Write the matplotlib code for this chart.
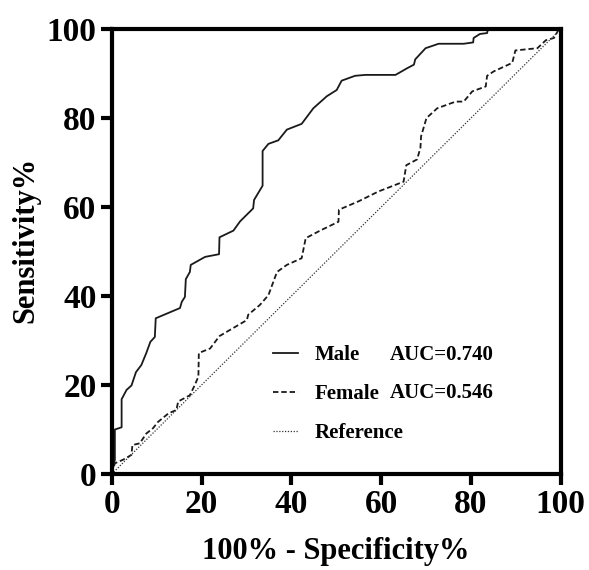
import matplotlib
matplotlib.use("Agg")
import matplotlib.pyplot as plt

# ROC points (100% - specificity, sensitivity)
male_x = [0, 0.7, 0.7, 2.2, 2.2, 3.3, 4.4, 5.4, 6.6, 7.7, 8.6, 9.6, 9.8, 15.2, 15.6,
          16.3, 16.5, 17.4, 17.6, 20.8, 23.9, 24.0, 27.1, 28.6, 31.5, 31.7, 33.6, 33.6,
          34.9, 37.1, 39.0, 42.3, 44.9, 47.9, 50.1, 51.2, 54.2, 56.5, 63.2, 65.8, 67.3,
          67.6, 69.9, 72.8, 78.4, 80.5, 80.6, 82.0, 83.6, 83.8, 100]
male_y = [0, 3.2, 10.0, 10.5, 16.8, 18.9, 19.9, 22.9, 24.5, 27.2, 29.7, 30.8, 35.0, 37.3,
          38.7, 39.8, 43.8, 45.4, 47.0, 48.8, 49.4, 53.2, 54.7, 56.8, 59.7, 61.6, 64.8,
          72.6, 74.2, 75.0, 77.4, 78.7, 82.2, 84.9, 86.3, 88.4, 89.5, 89.7, 89.7, 91.2,
          92.0, 93.2, 95.7, 96.7, 96.7, 97.0, 98.0, 98.9, 99.1, 100, 100]

female_x = [0, 0.7, 2.5, 4.4, 4.6, 6.25, 7.7, 9.2, 10.3, 12.6, 14.4, 14.8, 17.4, 18.5,
            19.3, 19.4, 21.9, 24.0, 26.7, 30.1, 30.4, 33.0, 34.9, 36.8, 39.0, 42.3, 43.2,
            46.4, 50.5, 50.6, 55.0, 59.4, 65.0, 65.6, 68.0, 68.75, 68.9, 70.1, 72.5, 76.6,
            78.4, 80.3, 83.3, 83.6, 85.1, 89.2, 89.9, 94.8, 96.7, 98.5, 99.6, 100]
female_y = [0, 2.4, 3.2, 4.3, 6.5, 6.9, 9.1, 10.3, 11.7, 13.6, 14.4, 16.3, 17.7, 20.0,
            21.9, 27.2, 28.2, 31.0, 32.6, 34.6, 35.8, 38.0, 40.2, 45.4, 47.0, 48.5, 53.0,
            54.7, 56.7, 59.4, 61.3, 63.5, 65.7, 69.4, 70.7, 73.3, 75.9, 80.0, 82.2, 83.7,
            83.7, 86.0, 87.1, 89.5, 90.5, 92.4, 95.2, 95.7, 97.5, 98.0, 100, 100]

ref_x = [0, 100]
ref_y = [0, 100]

labels = ["Male", "Female", "Reference"]
auc_text = ["AUC=0.740", "AUC=0.546"]
ticks = [0, 20, 40, 60, 80, 100]

plt.rcParams['font.family'] = ['Liberation Serif', 'DejaVu Serif']
plt.rcParams['font.weight'] = 'bold'

fig = plt.figure(figsize=(5.89, 5.70), dpi=100)
ax = fig.add_axes([0.1897, 0.1684, 0.7623, 0.7806])

ax.plot(male_x, male_y, color="#1a1a1a", lw=1.3, ls="-", label=labels[0])
ax.plot(female_x, female_y, color="#1a1a1a", lw=1.3, ls=(0, (3, 1.6)), label=labels[1])
ax.plot(ref_x, ref_y, color="#333333", lw=0.9, ls=(0, (1, 1.3)), label=labels[2])

ax.set_xlim(0, 100)
ax.set_ylim(0, 100)
ax.set_xticks(ticks)
ax.set_yticks(ticks)
ax.tick_params(direction="out", length=8, width=3, labelsize=24, pad=3)
for lab in ax.get_xticklabels() + ax.get_yticklabels():
    lab.set_fontweight("bold")
for s in ax.spines.values():
    s.set_linewidth(3)

ax.set_xlabel("100% - Specificity%", fontsize=22, fontweight="bold", labelpad=12)
ax.set_ylabel("Sensitivity%", fontsize=22, fontweight="bold")
ax.yaxis.set_label_coords(-0.158, 0.526)

leg = ax.legend(loc="upper left", bbox_to_anchor=(0.318, 0.331), frameon=False,
                prop={"size": 15, "weight": "bold"}, handlelength=1.2,
                labelspacing=0.9, handletextpad=0.8)

ax.text(0.62, 0.2675, auc_text[0], transform=ax.transAxes, fontsize=15,
        fontweight="bold", va="center")
ax.text(0.62, 0.1825, auc_text[1], transform=ax.transAxes, fontsize=15,
        fontweight="bold", va="center")

fig.savefig("out.png", dpi=100)
